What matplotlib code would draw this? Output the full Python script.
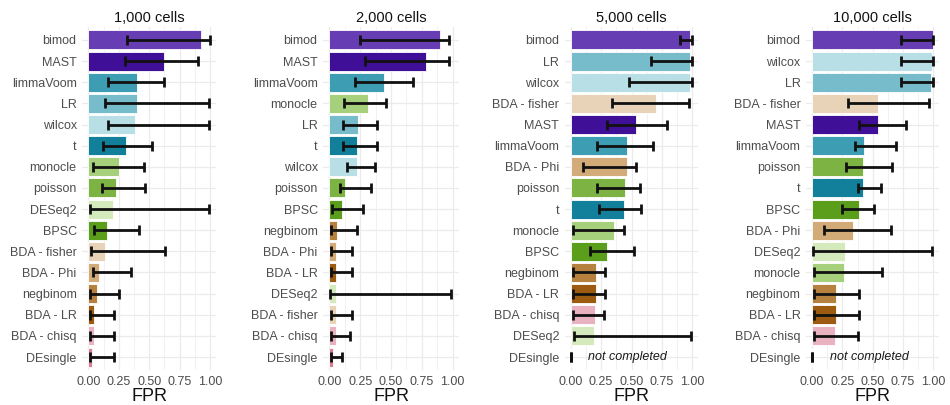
import numpy as np
import matplotlib
matplotlib.use("Agg")
import matplotlib.pyplot as plt
from matplotlib.ticker import MultipleLocator

plt.rcParams['font.family'] = ['Liberation Sans', 'DejaVu Sans']

# ---- data: false positive rate per method, with error range ----
titles = ["1,000 cells", "2,000 cells", "5,000 cells", "10,000 cells"]

methods_1k = ["bimod", "MAST", "limmaVoom", "LR", "wilcox", "t", "monocle", "poisson",
              "DESeq2", "BPSC", "BDA - fisher", "BDA - Phi", "negbinom", "BDA - LR",
              "BDA - chisq", "DEsingle"]
fpr_1k = [0.93, 0.62, 0.40, 0.40, 0.38, 0.31, 0.25, 0.23, 0.20, 0.15, 0.14, 0.09, 0.07, 0.05, 0.045, 0.03]
lo_1k = [0.32, 0.30, 0.16, 0.14, 0.16, 0.12, 0.04, 0.115, 0.01, 0.05, 0.02, 0.04, 0.015, 0.015, 0.015, 0.015]
hi_1k = [1.00, 0.90, 0.62, 0.99, 0.99, 0.52, 0.46, 0.47, 0.99, 0.42, 0.63, 0.35, 0.25, 0.21, 0.21, 0.21]

methods_2k = ["bimod", "MAST", "limmaVoom", "monocle", "LR", "t", "wilcox", "poisson",
              "BPSC", "negbinom", "BDA - Phi", "BDA - LR", "DESeq2", "BDA - fisher",
              "BDA - chisq", "DEsingle"]
fpr_2k = [0.90, 0.78, 0.44, 0.31, 0.23, 0.225, 0.22, 0.13, 0.10, 0.06, 0.055, 0.055, 0.05, 0.05, 0.05, 0.03]
lo_2k = [0.25, 0.29, 0.21, 0.12, 0.11, 0.11, 0.14, 0.09, 0.02, 0.015, 0.015, 0.015, 0.005, 0.015, 0.01, 0.01]
hi_2k = [0.97, 0.97, 0.68, 0.46, 0.39, 0.39, 0.37, 0.34, 0.27, 0.22, 0.18, 0.18, 0.99, 0.18, 0.165, 0.10]

methods_5k = ["bimod", "LR", "wilcox", "BDA - fisher", "MAST", "limmaVoom", "BDA - Phi", "poisson",
              "t", "monocle", "BPSC", "negbinom", "BDA - LR", "BDA - chisq", "DESeq2", "DEsingle"]
fpr_5k = [0.985, 0.98, 0.98, 0.70, 0.54, 0.46, 0.46, 0.45, 0.44, 0.36, 0.30, 0.205, 0.205, 0.20, 0.19, np.nan]
lo_5k = [0.90, 0.66, 0.48, 0.34, 0.30, 0.22, 0.10, 0.22, 0.23, 0.02, 0.16, 0.02, 0.02, 0.02, 0.03, 0.0]
hi_5k = [1.00, 1.00, 1.00, 0.97, 0.79, 0.68, 0.54, 0.57, 0.575, 0.44, 0.52, 0.28, 0.28, 0.27, 0.99, 0.0]

methods_10k = ["bimod", "wilcox", "LR", "BDA - fisher", "MAST", "limmaVoom", "poisson", "t",
               "BPSC", "BDA - Phi", "DESeq2", "monocle", "negbinom", "BDA - LR", "BDA - chisq", "DEsingle"]
fpr_10k = [0.995, 0.985, 0.98, 0.54, 0.54, 0.43, 0.42, 0.42, 0.39, 0.34, 0.275, 0.26, 0.20, 0.20, 0.19, np.nan]
lo_10k = [0.73, 0.73, 0.73, 0.30, 0.39, 0.355, 0.28, 0.375, 0.25, 0.10, 0.005, 0.015, 0.015, 0.015, 0.015, 0.0]
hi_10k = [1.00, 1.00, 1.00, 0.965, 0.775, 0.69, 0.66, 0.57, 0.51, 0.65, 0.99, 0.58, 0.385, 0.385, 0.376, 0.0]

# panels where a method did not finish
not_completed = {2: "DEsingle", 3: "DEsingle"}

method_colors = {
    "bimod": "#673DB3",
    "MAST": "#400F97",
    "limmaVoom": "#3D9DB3",
    "LR": "#77BCCB",
    "wilcox": "#B9DFE6",
    "t": "#12809A",
    "monocle": "#A6D07B",
    "poisson": "#7CB342",
    "DESeq2": "#D4EABD",
    "BPSC": "#5A9E1B",
    "BDA - fisher": "#E8D3B9",
    "BDA - Phi": "#D3AB79",
    "negbinom": "#B6813F",
    "BDA - LR": "#9C5B10",
    "BDA - chisq": "#E8B2C0",
    "DEsingle": "#D97B91",
}

panels = [
    (methods_1k, fpr_1k, lo_1k, hi_1k),
    (methods_2k, fpr_2k, lo_2k, hi_2k),
    (methods_5k, fpr_5k, lo_5k, hi_5k),
    (methods_10k, fpr_10k, lo_10k, hi_10k),
]

W, H = 950, 405
fig = plt.figure(figsize=(W / 100, H / 100), dpi=100)

# panel extents in pixels (left, right), shared top/bottom
panel_x = [(82.2, 216.1), (323.2, 458.9), (564.6, 698.4), (806.0, 939.4)]
top_px, bot_px = 27.3, 369.7

grid_col = "#EBEBEB"
text_col = "#4D4D4D"

for i, ((methods, fpr, lo, hi), (xl, xr)) in enumerate(zip(panels, panel_x)):
    ax = fig.add_axes([xl / W, (H - bot_px) / H, (xr - xl) / W, (bot_px - top_px) / H])
    n = len(methods)
    y = np.arange(n)
    fpr_a = np.array(fpr, dtype=float)
    lo_a = np.array(lo, dtype=float)
    hi_a = np.array(hi, dtype=float)
    cols = [method_colors[m] for m in methods]

    ax.barh(y, np.nan_to_num(fpr_a), height=0.9, color=cols, edgecolor="white",
            linewidth=0.6, zorder=2)
    mid = (lo_a + hi_a) / 2
    ax.errorbar(mid, y, xerr=(hi_a - lo_a) / 2, fmt="none", ecolor="#111111",
                elinewidth=2.0, capsize=3.6, capthick=2.0, zorder=3)

    if i in not_completed:
        yi = methods.index(not_completed[i])
        ax.text(0.47, yi, "not completed", style="italic", fontsize=9,
                ha="center", va="center", color="#1a1a1a", zorder=4)

    ax.set_xlim(-0.05, 1.05)
    ax.set_ylim(n - 0.4, -0.6)
    ax.set_yticks(y)
    ax.set_yticklabels(methods)
    ax.xaxis.set_minor_locator(MultipleLocator(0.125))
    ax.set_xticks([0, 0.25, 0.5, 0.75, 1.0])
    ax.set_xticklabels(["0.00", "0.25", "0.50", "0.75", "1.00"])

    ax.grid(True, which="major", axis="both", color=grid_col, linewidth=0.9, zorder=0)
    ax.grid(True, which="minor", axis="x", color=grid_col, linewidth=0.5, zorder=0)
    ax.set_axisbelow(True)
    for s in ax.spines.values():
        s.set_visible(False)
    ax.tick_params(axis="both", which="both", length=0, labelsize=9, labelcolor=text_col)
    ax.tick_params(axis="y", pad=4)
    ax.tick_params(axis="x", pad=4.5)

    ax.set_title(titles[i], fontsize=10.5, color="#111111", pad=3.5)
    ax.set_xlabel("FPR", fontsize=13, color="#111111", labelpad=0)

fig.savefig("out.png", dpi=100, facecolor="white")
